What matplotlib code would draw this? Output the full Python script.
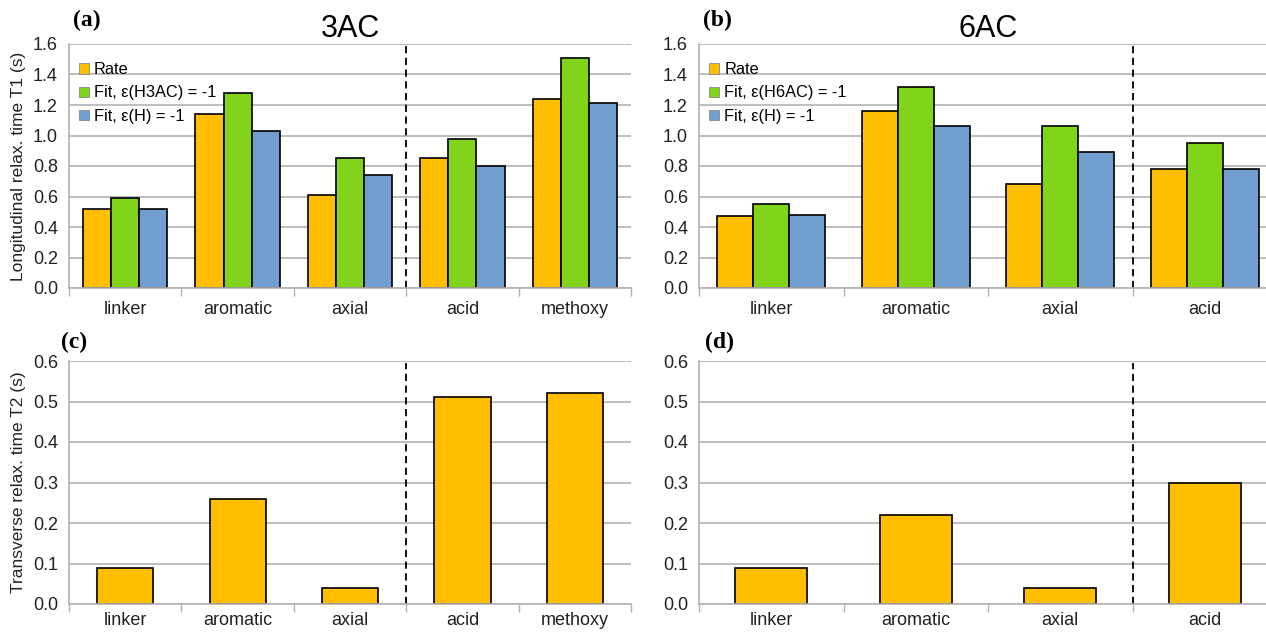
import matplotlib
matplotlib.use("Agg")
from matplotlib import pyplot as plt
from matplotlib.patches import Patch

plt.rcParams["font.family"] = ["Liberation Sans", "DejaVu Sans"]

cats_3ac = ["linker", "aromatic", "axial", "acid", "methoxy"]
cats_6ac = ["linker", "aromatic", "axial", "acid"]

t1_3ac_rate = [0.52, 1.14, 0.61, 0.85, 1.24]
t1_3ac_fit = [0.59, 1.28, 0.85, 0.98, 1.51]
t1_3ac_fit_h = [0.52, 1.03, 0.74, 0.80, 1.21]

t1_6ac_rate = [0.47, 1.16, 0.68, 0.78]
t1_6ac_fit = [0.55, 1.32, 1.06, 0.95]
t1_6ac_fit_h = [0.48, 1.06, 0.89, 0.78]

t2_3ac = [0.09, 0.26, 0.04, 0.51, 0.52]
t2_6ac = [0.09, 0.22, 0.04, 0.30]

orange = "#ffbf00"
green = "#81d41a"
blue = "#729fcf"
grid_c = "#b3b3b3"

fig = plt.figure(figsize=(12.66, 6.33), dpi=100)

W, H = 1266.0, 633.0
def box(l, r, t, b):
    return [l / W, 1 - b / H, (r - l) / W, (b - t) / H]

ax_a = fig.add_axes(box(69, 631, 44, 288))
ax_b = fig.add_axes(box(699, 1277, 44, 288))
ax_c = fig.add_axes(box(69, 631, 361, 604))
ax_d = fig.add_axes(box(699, 1277, 361, 604))


def style(ax, cats, ymax, ystep, fmt, xpad=9):
    n = len(cats)
    ax.set_xlim(-0.5, n - 0.5)
    ax.set_ylim(0, ymax)
    ticks = [i * ystep for i in range(int(round(ymax / ystep)) + 1)]
    ax.set_yticks(ticks)
    ax.set_yticklabels([fmt % t for t in ticks], fontsize=13, color="#222222")
    ax.set_xticks(range(n))
    ax.set_xticklabels(cats, fontsize=13, color="#222222")
    ax.set_xticks([i - 0.5 for i in range(n + 1)], minor=True)
    ax.tick_params(axis="x", which="major", length=0, pad=xpad)
    ax.tick_params(axis="x", which="minor", length=6, color=grid_c, width=1)
    ax.tick_params(axis="y", length=0, pad=8)
    ax.yaxis.grid(True, color=grid_c, linewidth=1.2)
    ax.set_axisbelow(True)
    for s in ["top", "right"]:
        ax.spines[s].set_visible(False)
    for s in ["left", "bottom"]:
        ax.spines[s].set_color(grid_c)
        ax.spines[s].set_linewidth(1.2)
    ax.axvline(2.5, color="black", linestyle=(0, (4, 2.5)), linewidth=1.3,
               ymax=0.99)


def t1_panel(ax, cats, rate, fit, fit_h, fit_label):
    x = list(range(len(cats)))
    w = 0.25
    ax.bar([i - w for i in x], rate, width=w, color=orange, edgecolor="black",
           linewidth=1.2)
    ax.bar(x, fit, width=w, color=green, edgecolor="black", linewidth=1.2)
    ax.bar([i + w for i in x], fit_h, width=w, color=blue, edgecolor="black",
           linewidth=1.2)
    style(ax, cats, 1.6, 0.2, "%.1f")
    handles = [Patch(facecolor=c, edgecolor="#888888", linewidth=0.6)
               for c in (orange, green, blue)]
    ax.legend(handles, ["Rate", fit_label, "Fit, ε(H) = -1"],
              loc="upper left", bbox_to_anchor=(0.018, 0.925), frameon=False,
              fontsize=11.8, handlelength=0.6, handleheight=0.6,
              handletextpad=0.3, labelspacing=0.5, borderpad=0,
              borderaxespad=0)


def t2_panel(ax, cats, vals):
    ax.bar(range(len(cats)), vals, width=0.5, color=orange, edgecolor="black",
           linewidth=1.2)
    style(ax, cats, 0.6, 0.1, "%.1f", xpad=6)


t1_panel(ax_a, cats_3ac, t1_3ac_rate, t1_3ac_fit, t1_3ac_fit_h,
         "Fit, ε(H3AC) = -1")
t1_panel(ax_b, cats_6ac, t1_6ac_rate, t1_6ac_fit, t1_6ac_fit_h,
         "Fit, ε(H6AC) = -1")
t2_panel(ax_c, cats_3ac, t2_3ac)
t2_panel(ax_d, cats_6ac, t2_6ac)

ax_a.set_title("3AC", fontsize=22, pad=5)
ax_b.set_title("6AC", fontsize=22, pad=5)

ax_a.set_ylabel("Longitudinal relax. time T1 (s)", fontsize=12.5,
                color="#222222")
ax_c.set_ylabel("Transverse relax. time T2 (s)", fontsize=12.5,
                color="#222222")
ax_a.yaxis.set_label_coords(-0.076, 0.5)
ax_c.yaxis.set_label_coords(-0.076, 0.5)

for lab, (px, py) in zip(["(a)", "(b)", "(c)", "(d)"],
                         [(73, 20), (703, 20), (61, 342), (705, 342)]):
    fig.text(px / W, 1 - py / H, lab, fontsize=17, fontweight="bold",
             family=["Liberation Serif", "DejaVu Serif"], va="center",
             ha="left")

fig.savefig("out.png", dpi=100)
